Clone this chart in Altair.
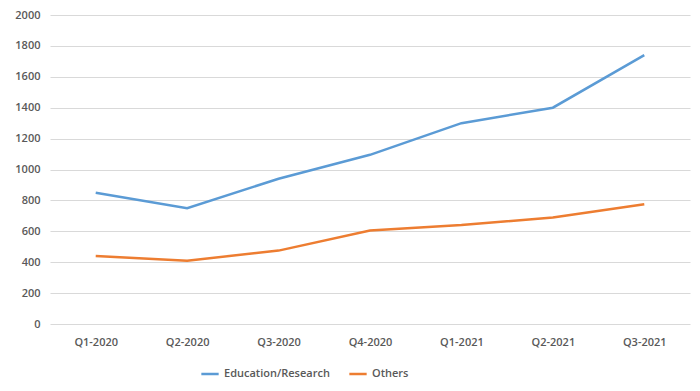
import altair as alt
import pandas as pd

quarters = ["Q1-2020", "Q2-2020", "Q3-2020", "Q4-2020", "Q1-2021", "Q2-2021", "Q3-2021"]
education = [850, 750, 940, 1095, 1300, 1400, 1740]
others = [440, 410, 475, 605, 640, 690, 775]
series = ["Education/Research", "Others"]

rows = []
for q, e, o in zip(quarters, education, others):
    rows.append({"quarter": q, "series": series[0], "value": e})
    rows.append({"quarter": q, "series": series[1], "value": o})
df = pd.DataFrame(rows)

font = "Open Sans"
gray = "#595959"

chart = alt.Chart(df).mark_line(strokeWidth=2.5).encode(
    x=alt.X("quarter:N", sort=quarters, title=None,
            scale=alt.Scale(padding=0.5),
            axis=alt.Axis(labelAngle=0, ticks=False, domain=False, grid=False,
                          labelFont=font, labelFontSize=11, labelColor=gray,
                          labelFontWeight=600, labelPadding=12)),
    y=alt.Y("value:Q", title=None,
            scale=alt.Scale(domain=[0, 2000]),
            axis=alt.Axis(values=list(range(0, 2001, 200)), format="d", ticks=False, domain=False,
                          gridColor="#D9D9D9", gridWidth=1,
                          labelFont=font, labelFontSize=11, labelColor=gray,
                          labelFontWeight=600, labelPadding=10)),
    color=alt.Color("series:N", title=None,
                    scale=alt.Scale(domain=series, range=["#5B9BD5", "#ED7D31"]),
                    legend=alt.Legend(orient="none", legendX=150, legendY=349,
                                      direction="horizontal", symbolType="stroke",
                                      symbolStrokeWidth=2.5, symbolSize=300,
                                      labelFont=font, labelFontSize=11, labelColor=gray,
                                      labelFontWeight=600, columnPadding=14)),
).properties(
    width=640, height=309,
    autosize=alt.AutoSizeParams(type="none"),
    padding={"left": 42, "top": 7, "right": 2, "bottom": 67},
).configure(background="white").configure_view(stroke=None)

chart.save("out.html", embed_options={"renderer": "svg", "actions": False})
